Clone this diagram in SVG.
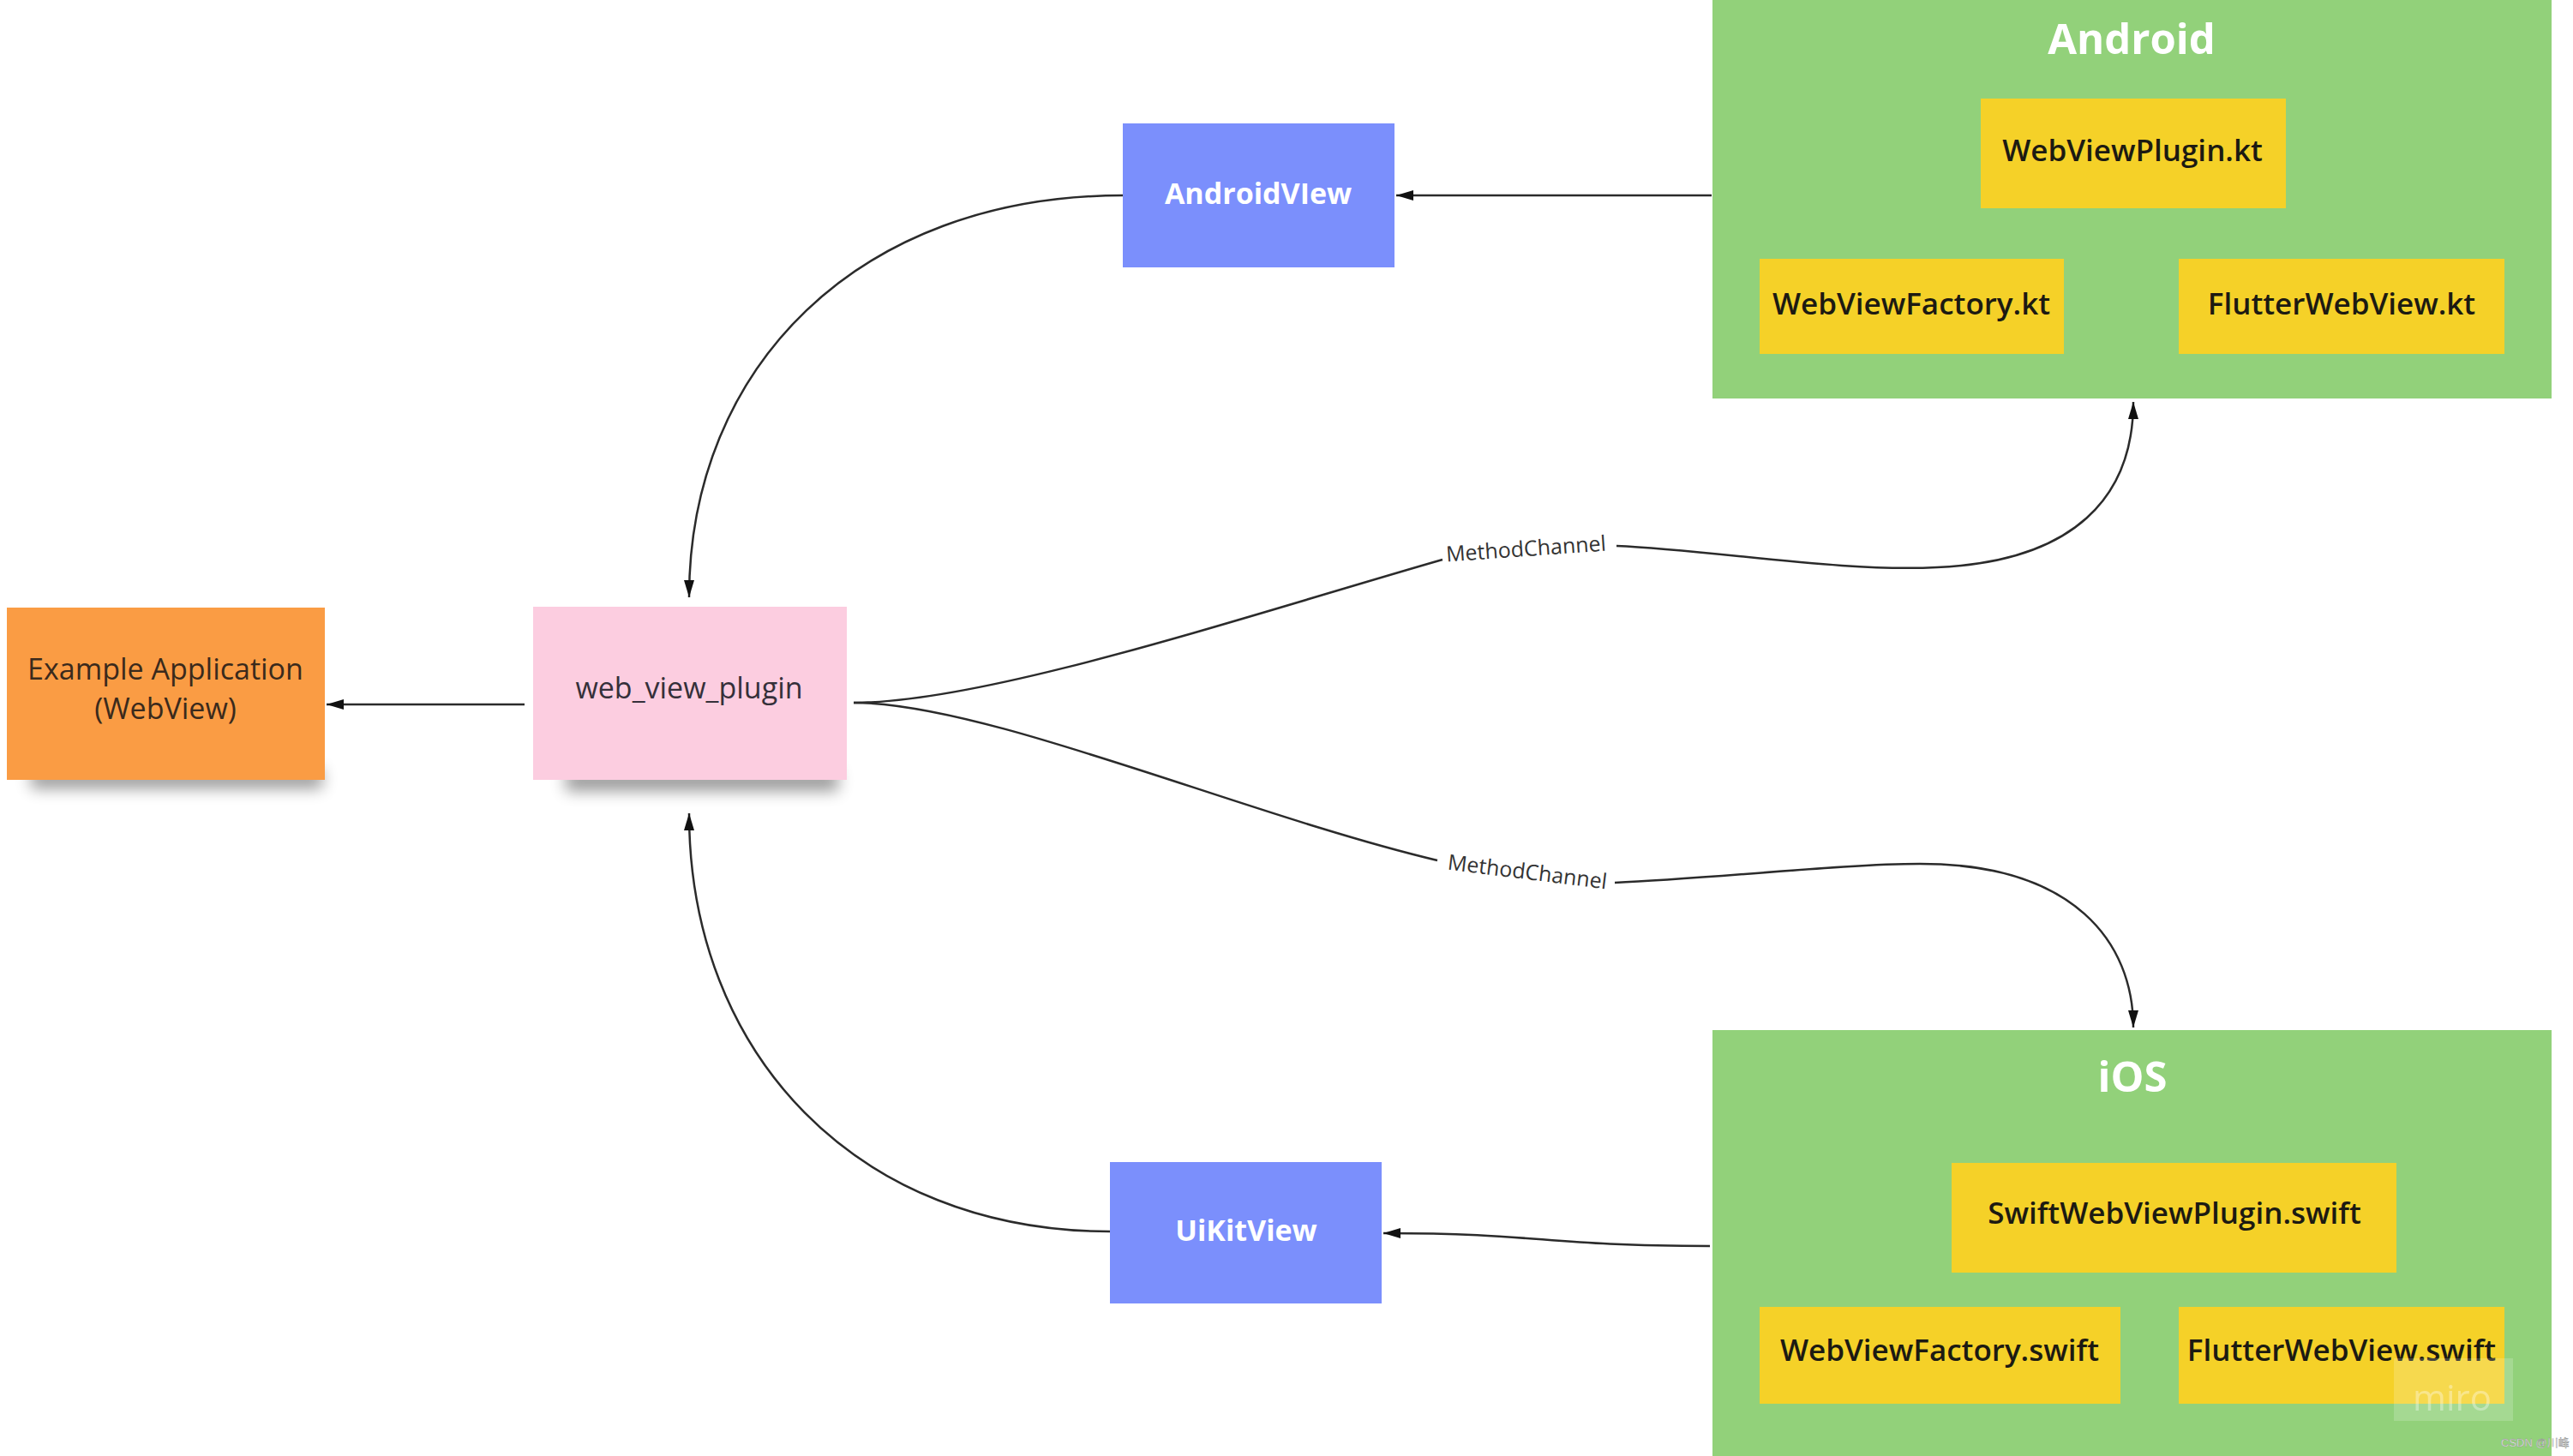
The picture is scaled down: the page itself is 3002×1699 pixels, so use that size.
<svg xmlns="http://www.w3.org/2000/svg" width="3002" height="1699" viewBox="0 0 3002 1699">
  <defs>
    <marker id="arrow" markerUnits="userSpaceOnUse" markerWidth="22" markerHeight="14" refX="20" refY="6" orient="auto">
      <path d="M0,0 L20,6 L0,12 z" fill="#111"/>
    </marker>
    <filter id="shadow" x="-20%" y="-150%" width="140%" height="400%">
      <feGaussianBlur stdDeviation="9"/>
    </filter>
    <style>
      .t { font-family: "Open Sans", "Noto Sans", "Liberation Sans", sans-serif; text-anchor: middle; }
      .title { font-size: 49px; font-weight: 700; fill: #ffffff; }
      .view { font-size: 34px; font-weight: 700; fill: #ffffff; }
      .file { font-size: 35px; font-weight: 600; fill: #1c1a12; }
      .sticky { font-size: 34px; font-weight: 400; }
      .lbl { font-size: 25px; font-weight: 400; fill: #333333; }
      .group { fill: #92d17a; }
      .yellow { fill: #f5d128; }
      .blue { fill: #7b8ffc; }
      .conn { fill: none; stroke: #2b2b2b; stroke-width: 2.5; }
    </style>
  </defs>
  <rect width="3002" height="1699" fill="#ffffff"/>

  <g id="example-application">
    <rect x="36" y="898" width="340" height="22" fill="#000" opacity="0.4" filter="url(#shadow)"/>
    <rect x="8" y="709" width="371" height="201" fill="#fa9c44"/>
    <text class="t sticky" fill="#3a2a1c" x="193" y="793">Example Application</text>
    <text class="t sticky" fill="#3a2a1c" x="193" y="839">(WebView)</text>
  </g>

  <g id="web-view-plugin">
    <rect x="660" y="899" width="318" height="24" fill="#000" opacity="0.4" filter="url(#shadow)"/>
    <rect x="622" y="708" width="366" height="202" fill="#fccde0"/>
    <text class="t sticky" fill="#35303a" x="804" y="815">web_view_plugin</text>
  </g>

  <g id="android-view">
    <rect x="1310" y="144" width="317" height="168" class="blue"/>
    <text class="t view" x="1468" y="238">AndroidVIew</text>
  </g>

  <g id="uikit-view">
    <rect x="1295" y="1356" width="317" height="165" class="blue"/>
    <text class="t view" x="1454" y="1448">UiKitView</text>
  </g>

  <g id="android">
    <rect x="1998" y="0" width="979" height="465" class="group"/>
    <text class="t title" x="2487" y="63">Android</text>
    <g id="webviewplugin-kt">
      <rect x="2311" y="115" width="356" height="128" class="yellow"/>
      <text class="t file" x="2488" y="188">WebViewPlugin.kt</text>
    </g>
    <g id="webviewfactory-kt">
      <rect x="2053" y="302" width="355" height="111" class="yellow"/>
      <text class="t file" x="2230" y="367">WebViewFactory.kt</text>
    </g>
    <g id="flutterwebview-kt">
      <rect x="2542" y="302" width="380" height="111" class="yellow"/>
      <text class="t file" x="2732" y="367">FlutterWebView.kt</text>
    </g>
  </g>

  <g id="ios">
    <rect x="1998" y="1202" width="979" height="497" class="group"/>
    <text class="t title" x="2488" y="1274">iOS</text>
    <g id="swiftwebviewplugin-swift">
      <rect x="2277" y="1357" width="519" height="128" class="yellow"/>
      <text class="t file" x="2537" y="1428">SwiftWebViewPlugin.swift</text>
    </g>
    <g id="webviewfactory-swift">
      <rect x="2053" y="1525" width="421" height="113" class="yellow"/>
      <text class="t file" x="2263" y="1588">WebViewFactory.swift</text>
    </g>
    <g id="flutterwebview-swift">
      <rect x="2542" y="1525" width="380" height="113" class="yellow"/>
      <text class="t file" x="2732" y="1588">FlutterWebView.swift</text>
    </g>
  </g>

  <g id="connectors">
    <path class="conn" d="M612,822 L381,822" marker-end="url(#arrow)"/>
    <path class="conn" d="M1997,228 L1629,228" marker-end="url(#arrow)"/>
    <path class="conn" d="M1310,228 C1000,228 804,430 804,697" marker-end="url(#arrow)"/>
    <path class="conn" d="M1295,1437 C1000,1437 804,1230 804,949" marker-end="url(#arrow)"/>
    <path class="conn" d="M1995,1454 C1800,1454 1800,1439 1614,1439" marker-end="url(#arrow)"/>
    <path class="conn" d="M996,820 C1150,820 1450,720 1683,653"/>
    <path class="conn" d="M1886,637 C2000,642 2150,668 2260,662 C2420,655 2489,580 2489,469" marker-end="url(#arrow)"/>
    <path class="conn" d="M996,820 C1150,820 1450,950 1677,1004"/>
    <path class="conn" d="M1884,1030 C2000,1025 2150,1008 2240,1008 C2420,1008 2489,1100 2489,1199" marker-end="url(#arrow)"/>
    <text class="t lbl" x="1781" y="649" transform="rotate(-4 1781 649)">MethodChannel</text>
    <text class="t lbl" x="1781" y="1026" transform="rotate(7 1781 1026)">MethodChannel</text>
  </g>

  <rect x="2793" y="1585" width="139" height="73" fill="#ffffff" opacity="0.18"/>
  <text class="t" x="2861" y="1646" font-size="42" fill="#ffffff" opacity="0.35">miro</text>
  <text x="2918" y="1688" font-family="Liberation Sans, Noto Sans CJK SC, sans-serif" font-size="13" fill="#f2f2f2" stroke="#8c8c8c" stroke-width="0.4">CSDN @川峰</text>
</svg>
